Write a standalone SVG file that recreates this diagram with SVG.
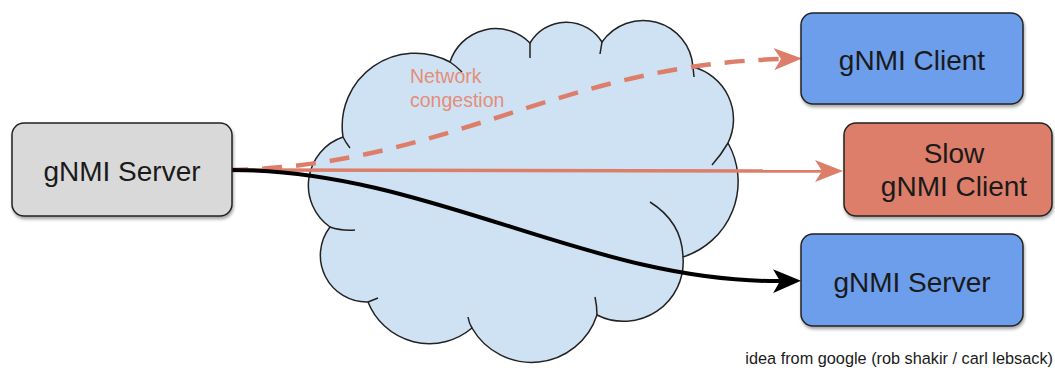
<svg xmlns="http://www.w3.org/2000/svg" width="1055" height="368" viewBox="0 0 1055 368">
<style>
.box{stroke:#222;stroke-width:1.5}
.lbl{font-family:"Liberation Sans",Arial,sans-serif;font-size:28px;fill:#1a1a1a;text-anchor:middle}
.cloud{fill:#cfe2f3;stroke:#222;stroke-width:1.5}
.stub{fill:none;stroke:#222;stroke-width:1.5}
</style>
<defs>
<filter id="sh" x="-10%" y="-10%" width="130%" height="140%">
<feDropShadow dx="1" dy="2.5" stdDeviation="1.5" flood-color="#000" flood-opacity="0.35"/>
</filter>
<marker id="arR" viewBox="0 0 28 22" refX="7" refY="11" markerWidth="28" markerHeight="22" markerUnits="userSpaceOnUse" orient="auto">
<path d="M0,0 L28,11 L0,22 L7,11 z" fill="#dd7e6b"/>
</marker>
<marker id="arK" viewBox="0 0 28 24" refX="7" refY="12" markerWidth="28" markerHeight="24" markerUnits="userSpaceOnUse" orient="auto">
<path d="M0,0 L28,12 L0,24 L7,12 z" fill="#000"/>
</marker>
</defs>

<g id="cloud">
<path class="cloud" d="M330,227 A51,51 0 0 1 343,137 A73,73 0 0 1 450,62 A48,48 0 0 1 530,43 A42,42 0 0 1 602,42 A50,50 0 0 1 693,67 A54,54 0 0 1 728,143 A79,79 0 0 1 683,257 A59.5,59.5 0 0 1 597,315 A68.8,68.8 0 0 1 472,328 A66,66 0 0 1 368,302 A46.6,46.6 0 0 1 330,227 Z"/>
<path class="stub" d="M343,137 Q346,143 350,148 M450,62 Q456,66 462,72 M530,43 L530,58 M602,42 Q601,48 600,54 M693,67 L694,77 M728,143 Q721,155 712,165 M683,257 Q682,222 650,202 M597,315 Q597,306 595,297 M472,328 Q469,323 468,317 M368,302 Q373,300 378,298 M330,227 Q341,231 355,230"/>
<text x="410" y="83" style="font-family:'Liberation Sans',Arial,sans-serif;font-size:19.5px;fill:#e48d7a">Network</text>
<text x="410" y="107" style="font-family:'Liberation Sans',Arial,sans-serif;font-size:19.5px;fill:#e48d7a">congestion</text>
</g>

<g id="connectors">
<path d="M232,170 L822,171" fill="none" stroke="#dd7e6b" stroke-width="3.5" marker-end="url(#arR)"/>
<path d="M232,170 C450,165 560,65 781,59" fill="none" stroke="#dd7e6b" stroke-width="4.5" stroke-dasharray="20,14" stroke-dashoffset="-30" marker-end="url(#arR)"/>
<path d="M232,170 C430,170 590,283 780,281" fill="none" stroke="#000" stroke-width="4" marker-end="url(#arK)"/>
</g>

<g id="server-left">
<rect class="box" x="12" y="123" width="220" height="93" rx="12" fill="#d9d9d9" filter="url(#sh)"/>
<text class="lbl" x="122" y="181">gNMI Server</text>
</g>

<g id="client">
<rect class="box" x="801" y="13" width="222" height="91" rx="12" fill="#6d9eeb" filter="url(#sh)"/>
<text class="lbl" x="912" y="70">gNMI Client</text>
</g>

<g id="slow-client">
<rect class="box" x="844" y="123" width="208" height="93" rx="12" fill="#dd7e6b" filter="url(#sh)"/>
<text class="lbl" x="954" y="163">Slow</text>
<text class="lbl" x="954" y="196">gNMI Client</text>
</g>

<g id="server-right">
<rect class="box" x="801" y="234" width="222" height="92" rx="12" fill="#6d9eeb" filter="url(#sh)"/>
<text class="lbl" x="912" y="292">gNMI Server</text>
</g>

<text x="1053" y="364" style="font-family:'Liberation Sans',Arial,sans-serif;font-size:16.3px;fill:#1a1a1a;text-anchor:end">idea from google (rob shakir / carl lebsack)</text>
</svg>
